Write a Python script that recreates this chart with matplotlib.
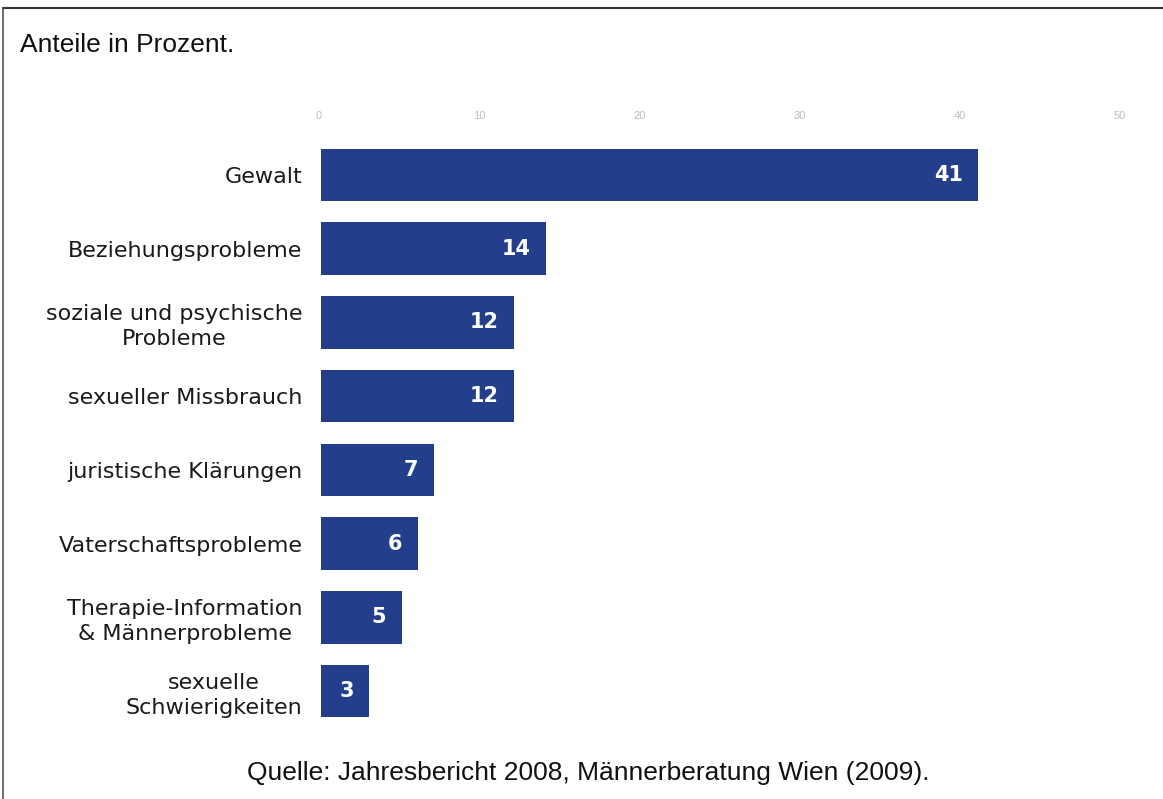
import matplotlib
matplotlib.use("Agg")
import matplotlib.pyplot as plt
from matplotlib.lines import Line2D

categories = [
    "Gewalt",
    "Beziehungsprobleme",
    "soziale und psychische\nProbleme",
    "sexueller Missbrauch",
    "juristische Klärungen",
    "Vaterschaftsprobleme",
    "Therapie-Information\n& Männerprobleme",
    "sexuelle\nSchwierigkeiten",
]
values = [41, 14, 12, 12, 7, 6, 5, 3]
xticks = [0, 10, 20, 30, 40, 50]

W, H = 1163, 799
fig = plt.figure(figsize=(W / 100, H / 100), dpi=100)
fig.patch.set_facecolor("white")

# axes: x 0..50 spans px 319..1120, rows 74 px apart
left = 319 / W
right = 1120 / W
top_px, bot_px = 138, 728
ax = fig.add_axes([left, 1 - bot_px / H, right - left, (bot_px - top_px) / H])

ypos = list(range(len(categories)))
bar_color = "#233f8c"
ax.barh(ypos, values, height=0.71, color=bar_color, left=0.15)
ax.set_xlim(0, 50)
ax.set_ylim(len(categories) - 0.5, -0.5)

ax.set_yticks(ypos)
ax.set_yticklabels(categories, fontsize=16, color="#1a1a1a", ha="right",
                   multialignment="center", family="DejaVu Sans",
                   linespacing=1.3)
ax.tick_params(axis="y", length=0, pad=12)

ax.xaxis.tick_top()
ax.set_xticks(xticks)
ax.set_xticklabels([str(t) for t in xticks], fontsize=8, color="#bdbdbd",
                   family="Liberation Sans")
ax.tick_params(axis="x", length=0, pad=12)

for s in ax.spines.values():
    s.set_visible(False)
ax.set_facecolor("white")

for y, v in zip(ypos, values):
    ax.text(v - 0.8, y, str(v), ha="right", va="center", color="white",
            fontsize=15, fontweight="bold", family="DejaVu Sans")

fig.text(20 / W, 1 - 45 / H, "Anteile in Prozent.", fontsize=19,
         family="Liberation Sans", color="#111111", va="center", ha="left")
fig.text(588 / W, 1 - 773 / H, "Quelle: Jahresbericht 2008, Männerberatung Wien (2009).",
         fontsize=19, family="Liberation Sans", color="#111111", va="center", ha="center")

# frame lines
fig.add_artist(Line2D([3 / W, 1], [1 - 8 / H, 1 - 8 / H], transform=fig.transFigure,
                      color="#333333", lw=1.5))
fig.add_artist(Line2D([3 / W, 3 / W], [1 - 8 / H, 0], transform=fig.transFigure,
                      color="#555555", lw=1.2))

fig.savefig("out.png", dpi=100)
